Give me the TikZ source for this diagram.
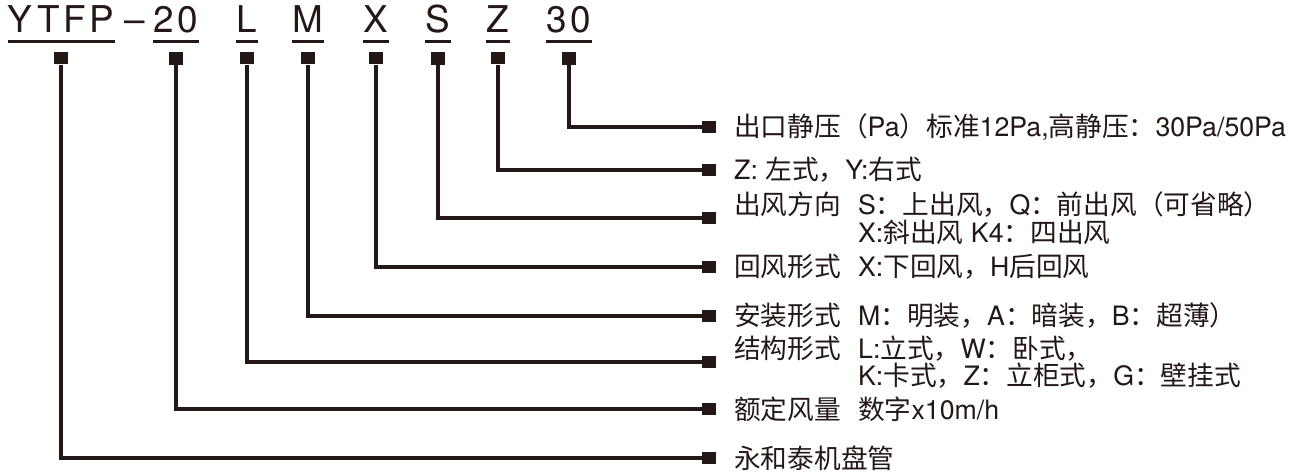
\documentclass[tikz,border=0pt]{standalone}
\usepackage{fontspec}
\setmainfont{TeX Gyre Heros}
\newfontfamily\cjkfont{Noto Sans CJK SC}
\newfontfamily\codefont[LetterSpace=10]{TeX Gyre Heros}
\newcommand{\zh}[1]{{\cjkfont #1}}
\newcommand{\cat}[1]{\makebox[2.48cm][l]{\zh{#1}}}
\usetikzlibrary{positioning}
\definecolor{inkblack}{RGB}{35, 24, 21}

\begin{document}
\begin{tikzpicture}[
    x=0.02cm, y=-0.02cm,
    every node/.style={text=inkblack},
    code/.style={anchor=base, inner sep=0pt, font=\fontsize{21pt}{25pt}\codefont},
    uline/.style={draw=inkblack, line width=1.5pt},
    sq/.style={fill=inkblack, minimum width=0.28cm, minimum height=0.25cm,
               inner sep=0pt},
    conn/.style={draw=inkblack, line width=1.8pt},
    lbl/.style={anchor=west, inner sep=0pt, align=left,
                font=\fontsize{15.2pt}{15.6pt}\selectfont},
]
    \useasboundingbox (0,0) rectangle (1296,475);

    % model code
    \node[code] (cYTFP) at (61,33) {YTFP};
    \node[code] (cdash) at (135,33) {–};
    \node[code] (c20) at (176,33) {20};
    \node[code] (cL) at (247,33) {L};
    \node[code] (cM) at (308,33) {M};
    \node[code] (cX) at (376,33) {X};
    \node[code] (cS) at (438,33) {S};
    \node[code] (cZ) at (498,33) {Z};
    \node[code] (c30) at (569,33) {30};

    \draw[uline] ([yshift=-0.17cm]cYTFP.base west) -- ([yshift=-0.17cm]cYTFP.base east);
    \draw[uline] ([yshift=-0.17cm]c20.base west) -- ([yshift=-0.17cm]c20.base east);
    \draw[uline] ([yshift=-0.17cm]cL.base west) -- ([yshift=-0.17cm]cL.base east);
    \draw[uline] ([yshift=-0.17cm]cM.base west) -- ([yshift=-0.17cm]cM.base east);
    \draw[uline] ([yshift=-0.17cm]cX.base west) -- ([yshift=-0.17cm]cX.base east);
    \draw[uline] ([yshift=-0.17cm]cS.base west) -- ([yshift=-0.17cm]cS.base east);
    \draw[uline] ([yshift=-0.17cm]cZ.base west) -- ([yshift=-0.17cm]cZ.base east);
    \draw[uline] ([yshift=-0.17cm]c30.base west) -- ([yshift=-0.17cm]c30.base east);

    \node[sq, below=0.36cm of cYTFP] (tYTFP) {};
    \node[sq, below=0.36cm of c20] (t20) {};
    \node[sq, below=0.36cm of cL] (tL) {};
    \node[sq, below=0.36cm of cM] (tM) {};
    \node[sq, below=0.36cm of cX] (tX) {};
    \node[sq, below=0.36cm of cS] (tS) {};
    \node[sq, below=0.36cm of cZ] (tZ) {};
    \node[sq, below=0.36cm of c30] (t30) {};

    % right-hand markers
    \node[sq] (r30) at (709,127) {};
    \node[sq] (rZ) at (709,170) {};
    \node[sq] (rS) at (709,218) {};
    \node[sq] (rX) at (709,267) {};
    \node[sq] (rM) at (709,316) {};
    \node[sq] (rL) at (709,362) {};
    \node[sq] (r20) at (709,409) {};
    \node[sq] (rYTFP) at (709,458) {};

    \draw[conn] (t30.south) |- (r30.west);
    \draw[conn] (tZ.south) |- (rZ.west);
    \draw[conn] (tS.south) |- (rS.west);
    \draw[conn] (tX.south) |- (rX.west);
    \draw[conn] (tM.south) |- (rM.west);
    \draw[conn] (tL.south) |- (rL.west);
    \draw[conn] (t20.south) |- (r20.west);
    \draw[conn] (tYTFP.south) |- (rYTFP.west);

    % descriptions
    \node[lbl, right=0.35cm of r30] (l30)
        {\zh{出口静压（}Pa\zh{）标准}12Pa,\zh{高静压：}30Pa/50Pa};
    \node[lbl, right=0.35cm of rZ] (lZ)
        {Z: \zh{左式，}Y:\zh{右式}};
    \node[lbl, right=0.35cm of rS] (lS)
        {\cat{出风方向}S\zh{：上出风，}Q\zh{：前出风（可省略）}\\
         \hspace*{2.48cm}X:\zh{斜出风} K4\zh{：四出风}};
    \node[lbl, right=0.35cm of rX] (lX)
        {\cat{回风形式}X:\zh{下回风，}H\zh{后回风}};
    \node[lbl, right=0.35cm of rM] (lM)
        {\cat{安装形式}M\zh{：明装，}A\zh{：暗装，}B\zh{：超薄）}};
    \node[lbl, right=0.35cm of rL] (lL)
        {\cat{结构形式}L:\zh{立式，}W\zh{：卧式，}\\
         \hspace*{2.48cm}K:\zh{卡式，}Z\zh{：立柜式，}G\zh{：壁挂式}};
    \node[lbl, right=0.35cm of r20] (l20)
        {\cat{额定风量}\zh{数字}x10m/h};
    \node[lbl, right=0.35cm of rYTFP] (lYTFP)
        {\zh{永和泰机盘管}};
\end{tikzpicture}
\end{document}
